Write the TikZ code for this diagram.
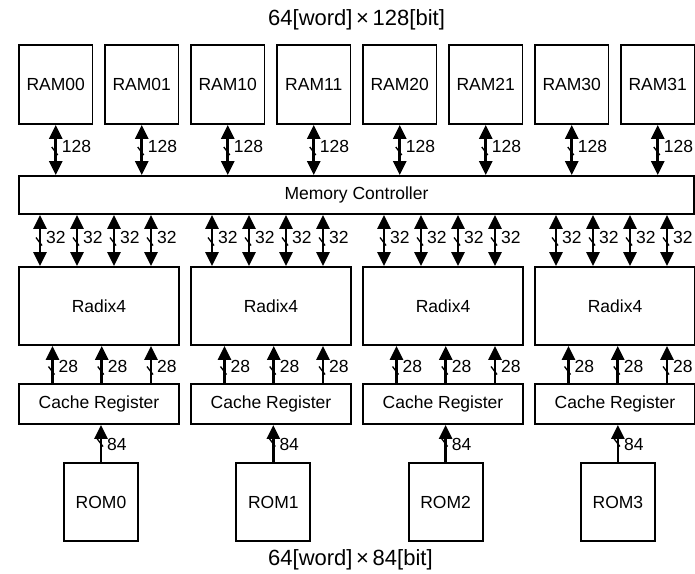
\documentclass[tikz,border=0pt]{standalone}
\usepackage{fontspec}
\setmainfont{Liberation Sans}
\usetikzlibrary{arrows.meta,calc}
\begin{document}
\begin{tikzpicture}[x=1pt,y=-1pt,
  box/.style={draw,line width=1.9pt,inner sep=0pt,font=\fontsize{17.5}{20}\selectfont},
  rambox/.style={box,minimum width=73.5pt,minimum height=79pt},
  radbox/.style={box,minimum width=160pt,minimum height=78pt},
  crbox/.style={box,minimum width=160pt,minimum height=40pt},
  rombox/.style={box,minimum width=74pt,minimum height=78pt},
  bus/.style={line width=2.7pt,-{Triangle[width=13pt,length=14pt]}},
  bibus/.style={line width=2.7pt,{Triangle[width=13pt,length=14pt]}-{Triangle[width=13pt,length=14pt]}},
  buslabel/.style={font=\fontsize{17.5}{20}\selectfont,inner sep=0pt,anchor=west},
  tickline/.style={line width=1.3pt},
  caption/.style={font=\fontsize{22}{26}\selectfont,inner sep=0pt,anchor=west}]
\useasboundingbox (0,0) rectangle (695,573);

\node[caption] (toptext) at (268,20) {64[word]\,×\,128[bit]};
\node[caption] (bottext) at (268,560) {64[word]\,×\,84[bit]};

\foreach \i/\n in {0/00,1/01,2/10,3/11,4/20,5/21,6/30,7/31}
  \node[rambox] (ram\i) at ({55.75+86*\i},84.5) {RAM\n};

\node[box,minimum width=675pt,minimum height=38pt] (mc) at (356.5,195) {Memory Controller};

\foreach \j in {0,1,2,3} {
  \node[radbox] (rad\j) at ({99+172*\j},306) {Radix4};
  \node[crbox] (cr\j) at ({99+172*\j},404) {Cache Register};
  \node[rombox] (rom\j) at ({101+172.3*\j},502) {ROM\j};
}

% RAM <-> Memory Controller
\foreach \i in {0,...,7} {
  \coordinate (rb\i) at (ram\i.south |- mc.north);
  \draw[bibus] (ram\i.south) -- (rb\i);
  \coordinate (rm\i) at ($(ram\i.south)!0.5!(rb\i)$);
  \draw[tickline] ($(rm\i)+(-4,-3)$) -- ($(rm\i)+(2,5)$);
  \node[buslabel] (rl\i) at ($(rm\i)+(6,-4)$) {128};
}

% Memory Controller <-> Radix4
\foreach \j in {0,1,2,3} {
  \foreach \k in {0,1,2,3} {
    \coordinate (mx\j\k) at ({40+172*\j+37*\k},0);
    \coordinate (mt\j\k) at (mx\j\k |- mc.south);
    \coordinate (mb\j\k) at (mx\j\k |- rad\j.north);
    \draw[bibus] (mt\j\k) -- (mb\j\k);
    \coordinate (mm\j\k) at ($(mt\j\k)!0.5!(mb\j\k)$);
    \draw[tickline] ($(mm\j\k)+(-4,-3)$) -- ($(mm\j\k)+(2,5)$);
    \node[buslabel] (ml\j\k) at ($(mm\j\k)+(6,-3)$) {32};
  }
}

% Cache Register -> Radix4
\foreach \j in {0,1,2,3} {
  \foreach \k in {0,1,2} {
    \coordinate (cx\j\k) at ({52.5+172*\j+49.25*\k},0);
    \coordinate (ct\j\k) at (cx\j\k |- cr\j.north);
    \coordinate (cb\j\k) at (cx\j\k |- rad\j.south);
    \draw[bus] (ct\j\k) -- (cb\j\k);
    \coordinate (cm\j\k) at ($(ct\j\k)!0.5!(cb\j\k)$);
    \draw[tickline] ($(cm\j\k)+(-4,2)$) -- ($(cm\j\k)+(2,10)$);
    \node[buslabel] (cl\j\k) at ($(cm\j\k)+(6,2)$) {28};
  }
}

% ROM -> Cache Register
\foreach \j in {0,1,2,3} {
  \coordinate (rt\j) at (rom\j.north |- cr\j.south);
  \draw[bus] (rom\j.north) -- (rt\j);
  \coordinate (ro\j) at ($(rom\j.north)!0.5!(rt\j)$);
  \draw[tickline] ($(ro\j)+(-4,-5)$) -- ($(ro\j)+(2,3)$);
  \node[buslabel] (ol\j) at ($(ro\j)+(6,1)$) {84};
}
\end{tikzpicture}
\end{document}
